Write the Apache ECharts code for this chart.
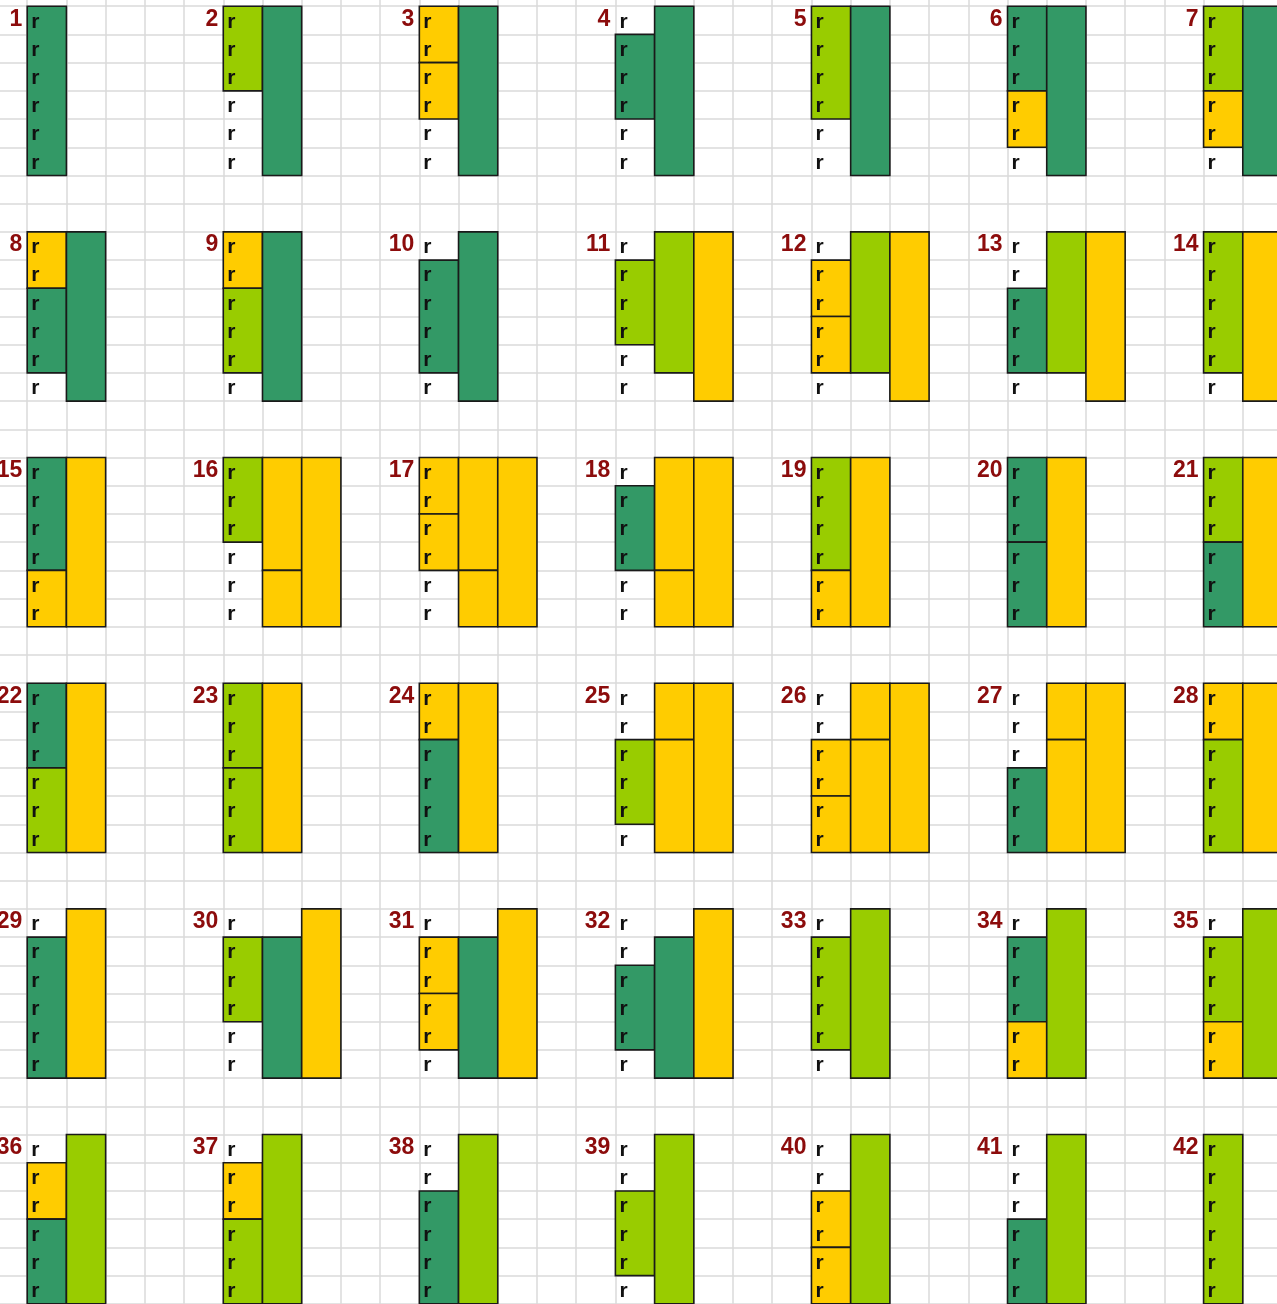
<!DOCTYPE html>
<html>
<head>
<meta charset="utf-8">
<script src="https://cdn.jsdelivr.net/npm/echarts@6/dist/echarts.min.js"></script>
<style>
html,body{margin:0;padding:0;background:#fff;overflow:hidden;}
#chart{position:absolute;left:-12px;top:-22px;width:1294px;height:1354px;}
</style>
</head>
<body>
<div id="chart"></div>
<script>
// ---- data ----
const colorKeys = { D: '#339966', L: '#99CC00', Y: '#FFCC00' };
const panelLabels = ['1','2','3','4','5','6','7','8','9','10','11','12','13','14',
  '15','16','17','18','19','20','21','22','23','24','25','26','27','28',
  '29','30','31','32','33','34','35','36','37','38','39','40','41','42'];
const rowLabels = ['r','r','r','r','r','r'];
// each block: [column within panel, first row, end row, colour key]
const panelBlocks = [
  [[0,0,6,'D']],
  [[0,0,3,'L'],[1,0,6,'D']],
  [[0,0,2,'Y'],[0,2,4,'Y'],[1,0,6,'D']],
  [[0,1,4,'D'],[1,0,6,'D']],
  [[0,0,4,'L'],[1,0,6,'D']],
  [[0,0,3,'D'],[0,3,5,'Y'],[1,0,6,'D']],
  [[0,0,3,'L'],[0,3,5,'Y'],[1,0,6,'D']],
  [[0,0,2,'Y'],[0,2,5,'D'],[1,0,6,'D']],
  [[0,0,2,'Y'],[0,2,5,'L'],[1,0,6,'D']],
  [[0,1,5,'D'],[1,0,6,'D']],
  [[0,1,4,'L'],[1,0,5,'L'],[2,0,6,'Y']],
  [[0,1,3,'Y'],[0,3,5,'Y'],[1,0,5,'L'],[2,0,6,'Y']],
  [[0,2,5,'D'],[1,0,5,'L'],[2,0,6,'Y']],
  [[0,0,5,'L'],[1,0,6,'Y']],
  [[0,0,4,'D'],[0,4,6,'Y'],[1,0,6,'Y']],
  [[0,0,3,'L'],[1,0,4,'Y'],[1,4,6,'Y'],[2,0,6,'Y']],
  [[0,0,2,'Y'],[0,2,4,'Y'],[1,0,4,'Y'],[1,4,6,'Y'],[2,0,6,'Y']],
  [[0,1,4,'D'],[1,0,4,'Y'],[1,4,6,'Y'],[2,0,6,'Y']],
  [[0,0,4,'L'],[0,4,6,'Y'],[1,0,6,'Y']],
  [[0,0,3,'D'],[0,3,6,'D'],[1,0,6,'Y']],
  [[0,0,3,'L'],[0,3,6,'D'],[1,0,6,'Y']],
  [[0,0,3,'D'],[0,3,6,'L'],[1,0,6,'Y']],
  [[0,0,3,'L'],[0,3,6,'L'],[1,0,6,'Y']],
  [[0,0,2,'Y'],[0,2,6,'D'],[1,0,6,'Y']],
  [[0,2,5,'L'],[1,0,2,'Y'],[1,2,6,'Y'],[2,0,6,'Y']],
  [[0,2,4,'Y'],[0,4,6,'Y'],[1,0,2,'Y'],[1,2,6,'Y'],[2,0,6,'Y']],
  [[0,3,6,'D'],[1,0,2,'Y'],[1,2,6,'Y'],[2,0,6,'Y']],
  [[0,0,2,'Y'],[0,2,6,'L'],[1,0,6,'Y']],
  [[0,1,6,'D'],[1,0,6,'Y']],
  [[0,1,4,'L'],[1,1,6,'D'],[2,0,6,'Y']],
  [[0,1,3,'Y'],[0,3,5,'Y'],[1,1,6,'D'],[2,0,6,'Y']],
  [[0,2,5,'D'],[1,1,6,'D'],[2,0,6,'Y']],
  [[0,1,5,'L'],[1,0,6,'L']],
  [[0,1,4,'D'],[0,4,6,'Y'],[1,0,6,'L']],
  [[0,1,4,'L'],[0,4,6,'Y'],[1,0,6,'L']],
  [[0,1,3,'Y'],[0,3,6,'D'],[1,0,6,'L']],
  [[0,1,3,'Y'],[0,3,6,'L'],[1,0,6,'L']],
  [[0,2,6,'D'],[1,0,6,'L']],
  [[0,2,5,'L'],[1,0,6,'L']],
  [[0,2,4,'Y'],[0,4,6,'Y'],[1,0,6,'L']],
  [[0,3,6,'D'],[1,0,6,'L']],
  [[0,0,6,'L']]
];

// ---- layout (cell units) ----
const PANELS_PER_ROW = 7, PANEL_W = 5, PANEL_H = 8;
const FONT = '"Liberation Sans", Arial, sans-serif';

const blockData = [];
const textData = [];
panelBlocks.forEach((blocks, i) => {
  const px = (i % PANELS_PER_ROW) * PANEL_W;
  const py = Math.floor(i / PANELS_PER_ROW) * PANEL_H;
  blocks.forEach(b => {
    blockData.push([px + b[0], py + b[1], py + b[2], b[3]]);
  });
  textData.push([px, py + 0.5, panelLabels[i], 'num']);
  rowLabels.forEach((t, r) => textData.push([px, py + r + 0.5, t, 'row']));
});

const chart = echarts.init(document.getElementById('chart'), null, { renderer: 'canvas' });
const option = {
  animation: false,
  backgroundColor: '#ffffff',
  grid: { left: 0, right: 0, top: 0, bottom: 0, containLabel: false, show: false },
  xAxis: {
    type: 'value', min: -1, max: 32, interval: 1,
    axisLine: { show: false }, axisTick: { show: false }, axisLabel: { show: false },
    splitLine: { show: true, lineStyle: { color: '#dadada', width: 1.5 } }
  },
  yAxis: {
    type: 'value', min: -1, max: 47, interval: 1, inverse: true,
    axisLine: { show: false }, axisTick: { show: false }, axisLabel: { show: false },
    splitLine: { show: true, lineStyle: { color: '#dadada', width: 1.5 } }
  },
  series: [
    {
      type: 'custom',
      clip: false,
      data: blockData,
      encode: { x: 0, y: [1, 2] },
      renderItem: function (params, api) {
        const c = api.value(0), r0 = api.value(1), r1 = api.value(2);
        const key = blockData[params.dataIndex][3];
        const p0 = api.coord([c, r0]);
        const p1 = api.coord([c + 1, r1]);
        return {
          type: 'rect',
          shape: { x: p0[0], y: p0[1], width: p1[0] - p0[0], height: p1[1] - p0[1] },
          style: { fill: colorKeys[key], stroke: '#1a1a1a', lineWidth: 1.6 }
        };
      },
      z: 2
    },
    {
      type: 'custom',
      clip: false,
      data: textData,
      encode: { x: 0, y: 1 },
      renderItem: function (params, api) {
        const d = textData[params.dataIndex];
        const p = api.coord([d[0], d[1]]);
        if (d[3] === 'num') {
          return {
            type: 'text',
            style: {
              text: d[2], x: p[0] - 5, y: p[1] - 1,
              align: 'right', verticalAlign: 'middle',
              font: 'bold 23px ' + FONT, fill: '#8c0c0c'
            }
          };
        }
        return {
          type: 'text',
          style: {
            text: d[2], x: p[0] + 4, y: p[1] + 1.5,
            align: 'left', verticalAlign: 'middle',
            font: 'bold 21px ' + FONT, fill: '#111111'
          }
        };
      },
      z: 3
    }
  ]
};
chart.setOption(option);
</script>
</body>
</html>
